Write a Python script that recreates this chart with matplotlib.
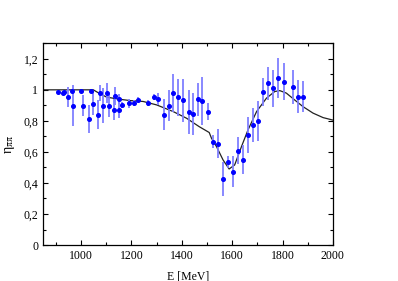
import numpy as np
import matplotlib
matplotlib.use("Agg")
import matplotlib.pyplot as plt
from matplotlib.ticker import MultipleLocator, FuncFormatter

# measured points: energy [MeV], eta, error
energy = [910, 928, 934, 950, 965, 969, 1000, 1009, 1030, 1040,
          1049, 1067, 1075, 1088, 1104, 1110, 1130, 1135, 1149, 1150,
          1164, 1189, 1210, 1225, 1268, 1289, 1305, 1329, 1349, 1365,
          1384, 1404, 1429, 1444, 1463, 1480, 1505, 1523, 1543, 1564,
          1584, 1604, 1624, 1643, 1663, 1682, 1702, 1723, 1743, 1762,
          1782, 1804, 1843, 1862, 1881]
eta = [0.989, 0.979, 0.989, 0.953, 0.990, 0.899, 0.990, 0.899, 0.815, 0.990,
       0.910, 0.840, 0.981, 0.899, 0.980, 0.899, 0.873, 0.961, 0.873, 0.940,
       0.901, 0.912, 0.916, 0.933, 0.914, 0.953, 0.940, 0.839, 0.899, 0.979,
       0.953, 0.933, 0.856, 0.845, 0.940, 0.927, 0.860, 0.667, 0.654, 0.424,
       0.535, 0.471, 0.609, 0.550, 0.710, 0.772, 0.798, 0.985, 1.041, 1.011,
       1.075, 1.052, 1.021, 0.957, 0.957]
err = [0.008, 0.015, 0.010, 0.065, 0.010, 0.130, 0.008, 0.065, 0.090, 0.010,
       0.075, 0.095, 0.050, 0.113, 0.065, 0.072, 0.065, 0.060, 0.057, 0.030,
       0.020, 0.030, 0.020, 0.020, 0.020, 0.020, 0.040, 0.100, 0.100, 0.120,
       0.120, 0.140, 0.140, 0.135, 0.107, 0.155, 0.054, 0.040, 0.095, 0.110,
       0.040, 0.100, 0.090, 0.095, 0.115, 0.110, 0.130, 0.090, 0.105, 0.120,
       0.130, 0.120, 0.110, 0.105, 0.100]

# model curve
curve_e = [850, 1000, 1049, 1075, 1102, 1150, 1194, 1247, 1300, 1366,
           1419, 1469, 1509, 1518, 1538, 1564, 1588, 1610, 1637, 1663,
           1697, 1736, 1769, 1789, 1815, 1848, 1881, 1921, 1961, 2000]
curve_eta = [1.0, 1.0, 1.0, 0.975, 0.953, 0.94, 0.931, 0.925, 0.903, 0.86,
             0.817, 0.763, 0.725, 0.688, 0.634, 0.548, 0.49, 0.516, 0.634, 0.742,
             0.86, 0.946, 0.989, 0.995, 0.979, 0.935, 0.892, 0.85, 0.821, 0.805]

plt.rcParams['font.family'] = ['Liberation Serif', 'DejaVu Serif']
plt.rcParams['mathtext.fontset'] = 'stix'

fig = plt.figure(figsize=(3.98, 2.81), dpi=100)
ax = fig.add_axes([0.1085, 0.128, 0.728, 0.718])

ax.plot(curve_e, curve_eta, color='#222222', lw=0.9, zorder=2)
ax.errorbar(energy, eta, yerr=err, fmt='o', color='#0000ff', ms=2.6,
            ecolor='#7f7fff', elinewidth=1.3, capsize=0, zorder=3)

ax.set_xlim(850, 2000)
ax.set_ylim(0, 1.3)
ax.xaxis.set_major_locator(MultipleLocator(200))
ax.xaxis.set_minor_locator(MultipleLocator(100))
ax.yaxis.set_major_locator(MultipleLocator(0.2))
ax.yaxis.set_minor_locator(MultipleLocator(0.1))
ax.yaxis.set_major_formatter(FuncFormatter(
    lambda v, p: '0' if abs(v) < 1e-9 else ('%g' % round(v, 1)).replace('.', ',')))
ax.tick_params(which='both', direction='in', top=True, right=True,
               labelsize=8.5, width=0.8)
ax.tick_params(which='major', length=3.5)
ax.tick_params(which='minor', length=2)
for s in ax.spines.values():
    s.set_linewidth(0.9)

ax.set_xlabel('E [MeV]', fontsize=8.5, labelpad=6)
ax.set_ylabel('η$_{\\mathrm{ππ}}$', fontsize=10, labelpad=5)

fig.savefig('out.png', dpi=100)
